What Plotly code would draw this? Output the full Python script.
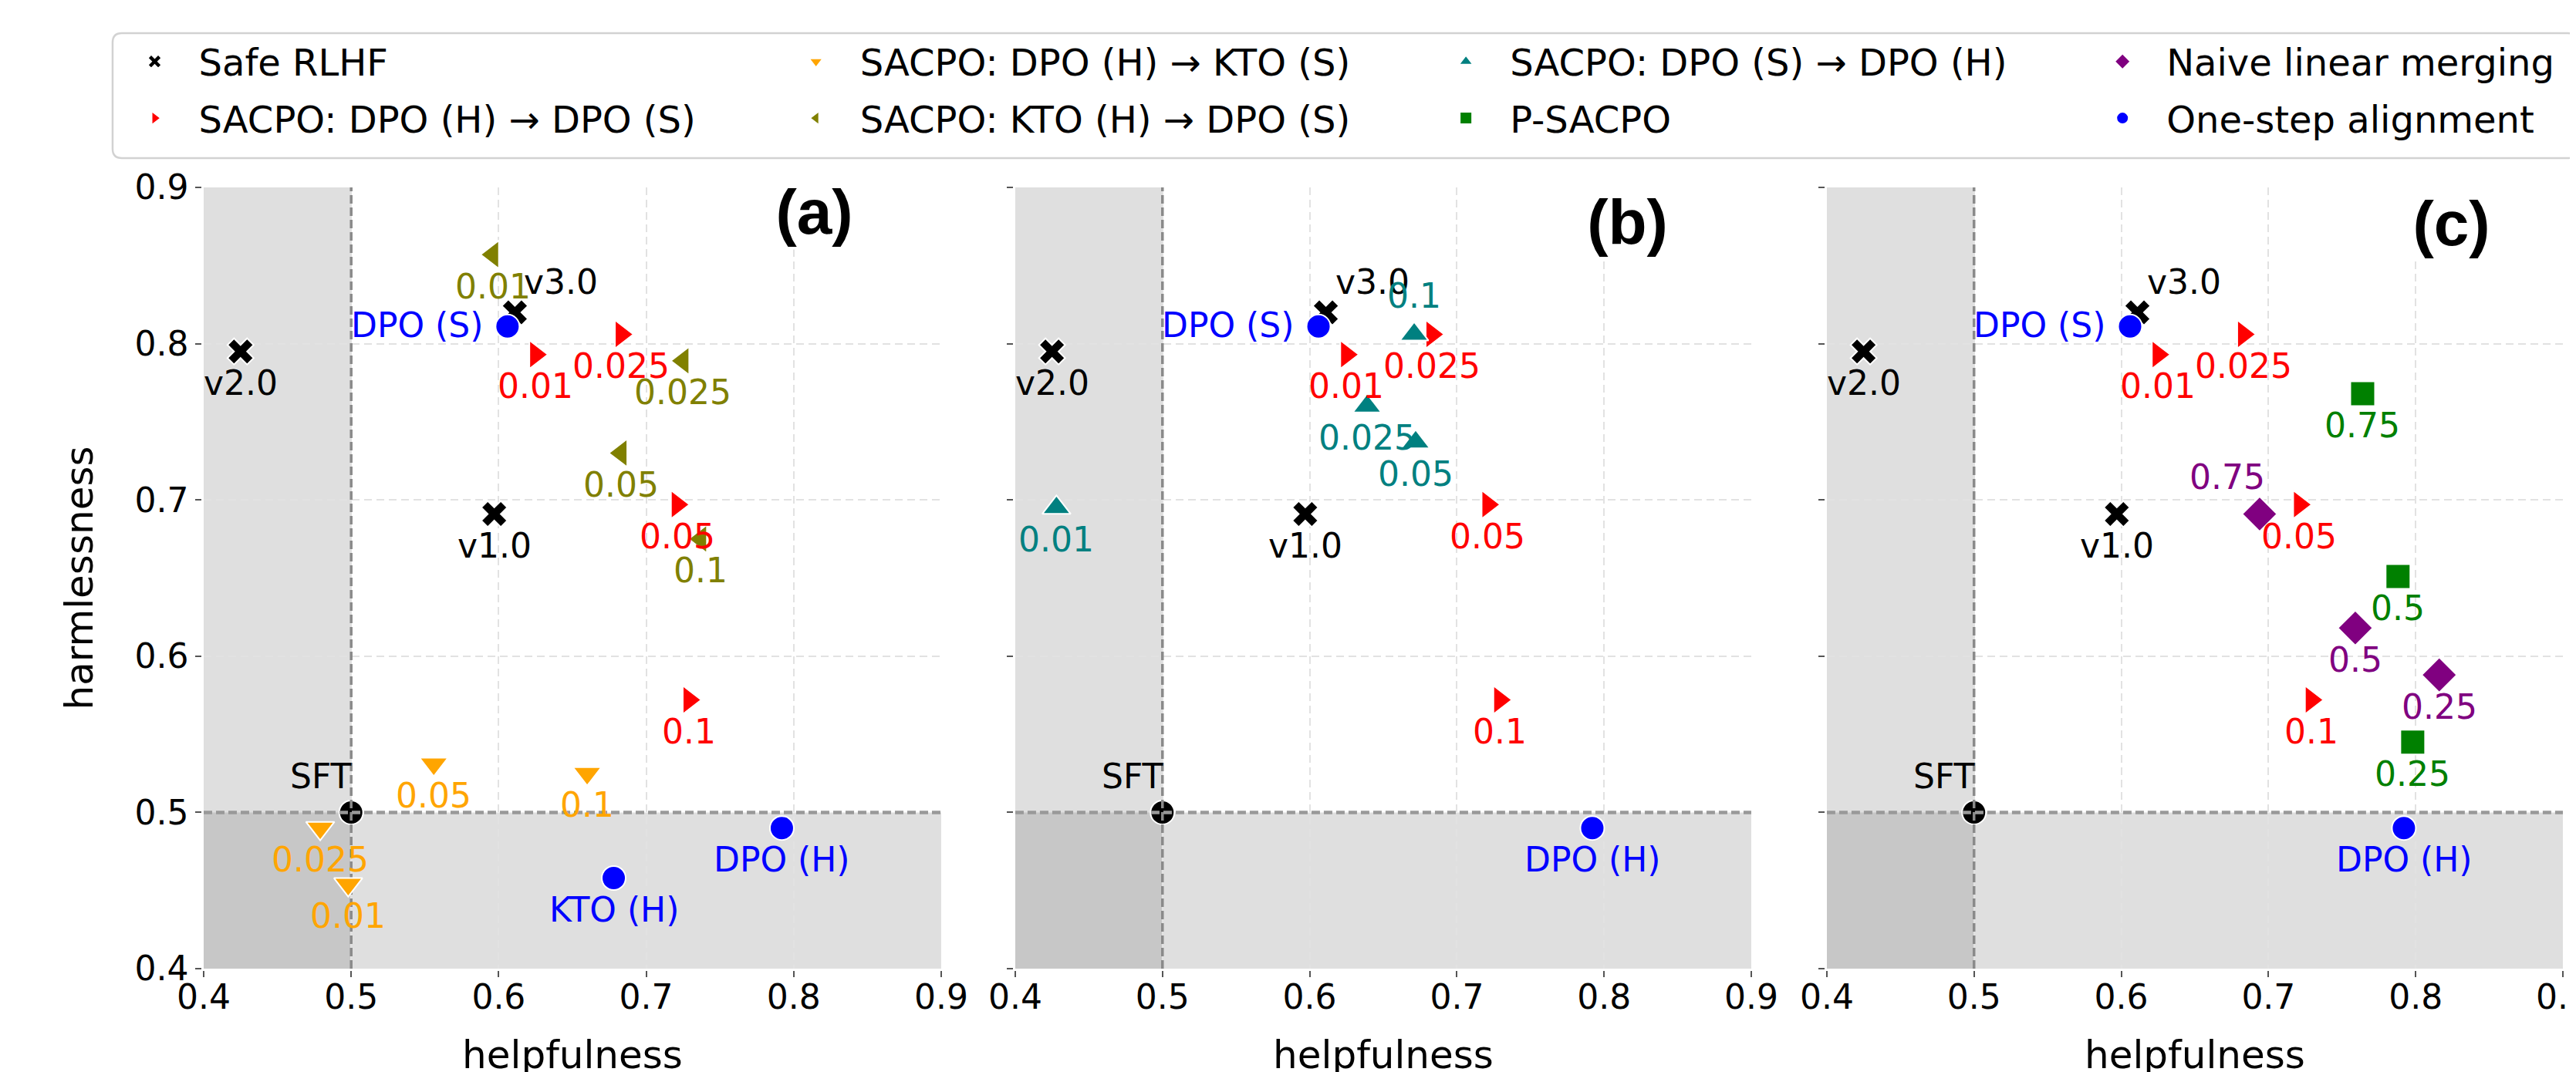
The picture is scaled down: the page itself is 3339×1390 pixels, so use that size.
import plotly.graph_objects as go

# ---------------- data (helpfulness, harmlessness) ----------------
safe_names = ["v1.0", "v2.0", "v3.0"]
safe_help = [0.597, 0.425, 0.611]
safe_harm = [0.691, 0.795, 0.820]

sft_names = ["SFT"]
sft_help = [0.5]
sft_harm = [0.5]

beta_labels = ["0.01", "0.025", "0.05", "0.1"]
red_help = [0.625, 0.683, 0.721, 0.729]          # SACPO: DPO (H) -> DPO (S)
red_harm = [0.793, 0.806, 0.697, 0.572]
orange_help = [0.498, 0.479, 0.556, 0.660]       # SACPO: DPO (H) -> KTO (S)
orange_harm = [0.454, 0.490, 0.531, 0.525]
olive_help = [0.596, 0.725, 0.683, 0.737]        # SACPO: KTO (H) -> DPO (S)
olive_harm = [0.857, 0.789, 0.730, 0.675]
teal_help = [0.428, 0.639, 0.672, 0.671]         # SACPO: DPO (S) -> DPO (H)
teal_harm = [0.695, 0.760, 0.737, 0.806]

ratio_labels = ["0.25", "0.5", "0.75"]
green_help = [0.798, 0.788, 0.764]               # P-SACPO
green_harm = [0.545, 0.651, 0.768]
purple_help = [0.816, 0.759, 0.694]              # Naive linear merging
purple_harm = [0.588, 0.618, 0.691]

onestep_names = ["DPO (S)", "DPO (H)", "KTO (H)"]
onestep_help = [0.606, 0.792, 0.678]
onestep_harm = [0.811, 0.490, 0.458]

axis_range = [0.4, 0.9]
tick_vals = [0.4, 0.5, 0.6, 0.7, 0.8, 0.9]
tick_text = ["0.4", "0.5", "0.6", "0.7", "0.8", "0.9"]
panel_names = ["(a)", "(b)", "(c)"]

# ---------------- styling ----------------
FONT = "DejaVu Sans"
W, H = 3339, 1390
ML, MR, MT, MB = 256, 25, 235, 142
domains = [[0.0, 0.3126], [0.3440, 0.6560], [0.6880, 1.0]]

series = {
    "safe": dict(name="Safe RLHF", symbol="x", color="black", size=30, legend="legend", rank=1,
                 x=safe_help, y=safe_harm, text=safe_names),
    "red": dict(name="SACPO: DPO (H) \u2192 DPO (S)", symbol="triangle-right", color="red", size=32,
                legend="legend", rank=2, x=red_help, y=red_harm, text=beta_labels),
    "orange": dict(name="SACPO: DPO (H) \u2192 KTO (S)", symbol="triangle-down", color="orange", size=32,
                   legend="legend2", rank=3, x=orange_help, y=orange_harm, text=beta_labels),
    "olive": dict(name="SACPO: KTO (H) \u2192 DPO (S)", symbol="triangle-left", color="olive", size=32,
                  legend="legend2", rank=4, x=olive_help, y=olive_harm, text=beta_labels),
    "teal": dict(name="SACPO: DPO (S) \u2192 DPO (H)", symbol="triangle-up", color="teal", size=32,
                 legend="legend3", rank=5, x=teal_help, y=teal_harm, text=beta_labels),
    "green": dict(name="P-SACPO", symbol="square", color="green", size=32,
                  legend="legend3", rank=6, x=green_help, y=green_harm, text=ratio_labels),
    "purple": dict(name="Naive linear merging", symbol="diamond", color="purple", size=35,
                   legend="legend4", rank=7, x=purple_help, y=purple_harm, text=ratio_labels),
    "blue": dict(name="One-step alignment", symbol="circle", color="blue", size=31,
                 legend="legend4", rank=8, x=onestep_help, y=onestep_harm, text=onestep_names),
}

# which series / which points appear in each panel
panel_content = [
    {"safe": None, "red": None, "orange": None, "olive": None, "blue": None},
    {"safe": None, "red": None, "teal": None, "blue": [0, 1]},
    {"safe": None, "red": None, "green": None, "purple": None, "blue": [0, 1]},
]

label_place = {
    ("safe", "v3.0"): dict(xanchor="left", xshift=10, yshift=40),
    ("blue", "DPO (S)"): dict(xanchor="right", xshift=-30, yshift=2),
    ("sft", "SFT"): dict(xanchor="right", xshift=2, yshift=47),
    ("teal", "0.1"): dict(xanchor="center", xshift=0, yshift=50),
    ("purple", "0.75"): dict(xanchor="center", xshift=-42, yshift=48),
}
default_place = dict(xanchor="center", xshift=0, yshift=-41)

panel_label_pos = [(0.828, 0.969), (0.832, 0.957), (0.849, 0.955)]

fig = go.Figure()
annotations = []
shapes = []
shown = set()

for p in range(3):
    xr = "x" if p == 0 else f"x{p+1}"
    yr = "y" if p == 0 else f"y{p+1}"

    # shaded "worse than SFT" regions
    shapes.append(dict(type="rect", xref=xr, yref=yr, x0=axis_range[0], x1=sft_help[0],
                       y0=axis_range[0], y1=axis_range[1], fillcolor="gray", opacity=0.25,
                       line=dict(width=0), layer="below"))
    shapes.append(dict(type="rect", xref=xr, yref=yr, x0=axis_range[0], x1=axis_range[1],
                       y0=axis_range[0], y1=sft_harm[0], fillcolor="gray", opacity=0.25,
                       line=dict(width=0), layer="below"))

    # SFT marker (under the reference lines)
    fig.add_trace(go.Scatter(x=sft_help, y=sft_harm, mode="markers", xaxis=xr, yaxis=yr,
                             marker=dict(symbol="circle", color="black", size=31,
                                         line=dict(color="white", width=2)),
                             showlegend=False, hoverinfo="skip", zorder=0))
    # dashed reference lines through SFT
    fig.add_trace(go.Scatter(x=[sft_help[0], sft_help[0]], y=axis_range, mode="lines",
                             xaxis=xr, yaxis=yr, line=dict(color="#8a8a8a", width=3.5, dash="11px,5px"),
                             showlegend=False, hoverinfo="skip", zorder=1))
    fig.add_trace(go.Scatter(x=axis_range, y=[sft_harm[0], sft_harm[0]], mode="lines",
                             xaxis=xr, yaxis=yr, line=dict(color="#999999", width=4.5, dash="11px,5px"),
                             showlegend=False, hoverinfo="skip", zorder=1))
    lp = label_place.get(("sft", "SFT"), default_place)
    annotations.append(dict(x=sft_help[0], y=sft_harm[0], xref=xr, yref=yr, text="SFT",
                            showarrow=False, font=dict(family=FONT, size=44, color="black"),
                            yanchor="middle", **lp))

    for key, idx in panel_content[p].items():
        s = series[key]
        ids = idx if idx is not None else list(range(len(s["x"])))
        xs = [s["x"][i] for i in ids]
        ys = [s["y"][i] for i in ids]
        ts = [s["text"][i] for i in ids]
        fig.add_trace(go.Scatter(
            x=xs, y=ys, mode="markers", xaxis=xr, yaxis=yr, name=s["name"],
            legend=s["legend"], legendgroup=key, legendrank=s["rank"],
            showlegend=key not in shown,
            marker=dict(symbol=s["symbol"], color=s["color"], size=s["size"],
                        line=dict(color="white", width=2)),
            zorder=3 if key == "blue" else 2))
        shown.add(key)
        for xv, yv, tv in zip(xs, ys, ts):
            lp = label_place.get((key, tv), default_place)
            annotations.append(dict(x=xv, y=yv, xref=xr, yref=yr, text=tv, showarrow=False,
                                    font=dict(family=FONT, size=44, color=s["color"]),
                                    yanchor="middle", **lp))

    px_, py_ = panel_label_pos[p]
    annotations.append(dict(x=px_, y=py_, xref=f"{xr} domain", yref=f"{yr} domain",
                            text=panel_names[p], showarrow=False, bgcolor="white",
                            width=305, height=96, xanchor="center", yanchor="middle",
                            font=dict(family="Liberation Sans", size=82, color="black",
                                      weight="bold")))

# legend frame (rounded rectangle spanning the figure top)
x0, x1, y0, y1 = -0.0386, 1.0059, 1.0375, 1.1974
rx, ry = 12 / (W - ML - MR), 12 / (H - MT - MB)
path = (f"M{x0+rx},{y0} L{x1-rx},{y0} Q{x1},{y0} {x1},{y0+ry} L{x1},{y1-ry} Q{x1},{y1} {x1-rx},{y1} "
        f"L{x0+rx},{y1} Q{x0},{y1} {x0},{y1-ry} L{x0},{y0+ry} Q{x0},{y0} {x0+rx},{y0} Z")
shapes.append(dict(type="path", path=path, xref="paper", yref="paper",
                   line=dict(color="#d2d2d2", width=2.5), fillcolor="white", layer="below"))

axis_common = dict(range=axis_range, tickvals=tick_vals, ticktext=tick_text,
                   showgrid=True, gridcolor="#e2e2e2", gridwidth=2, griddash="10px,6px",
                   zeroline=False, showline=True, linecolor="#858585",
                   ticks="outside", ticklen=8, tickwidth=2, tickcolor="#555555",
                   tickfont=dict(family=FONT, size=44, color="black"), automargin=False)

layout = dict(width=W, height=H, margin=dict(l=ML, r=MR, t=MT, b=MB),
              paper_bgcolor="white", plot_bgcolor="white",
              font=dict(family=FONT, color="black"),
              shapes=shapes, annotations=annotations)

for p in range(3):
    xn = "xaxis" if p == 0 else f"xaxis{p+1}"
    yn = "yaxis" if p == 0 else f"yaxis{p+1}"
    xa = "x" if p == 0 else f"x{p+1}"
    ya = "y" if p == 0 else f"y{p+1}"
    layout[xn] = dict(axis_common, domain=domains[p], anchor=ya, linewidth=3,
                      ticklabeloverflow="allow", ticklabelstandoff=-12,
                      title=dict(text="helpfulness", font=dict(family=FONT, size=50), standoff=34))
    layout[yn] = dict(axis_common, domain=[0, 1], anchor=xa, linewidth=2.5,
                      showticklabels=(p == 0))
    if p == 0:
        layout[yn]["title"] = dict(text="harmlessness", font=dict(family=FONT, size=50), standoff=38)

leg_common = dict(orientation="v", bgcolor="rgba(0,0,0,0)", borderwidth=0,
                  font=dict(family=FONT, size=48, color="black"), itemwidth=104,
                  xanchor="left", yanchor="top", y=1.1984, tracegroupgap=8)
layout["legend"] = dict(leg_common, x=-0.0394)
layout["legend2"] = dict(leg_common, x=0.2409)
layout["legend3"] = dict(leg_common, x=0.5164)
layout["legend4"] = dict(leg_common, x=0.7947)

fig.update_layout(**layout)
fig.write_html("out.html")
